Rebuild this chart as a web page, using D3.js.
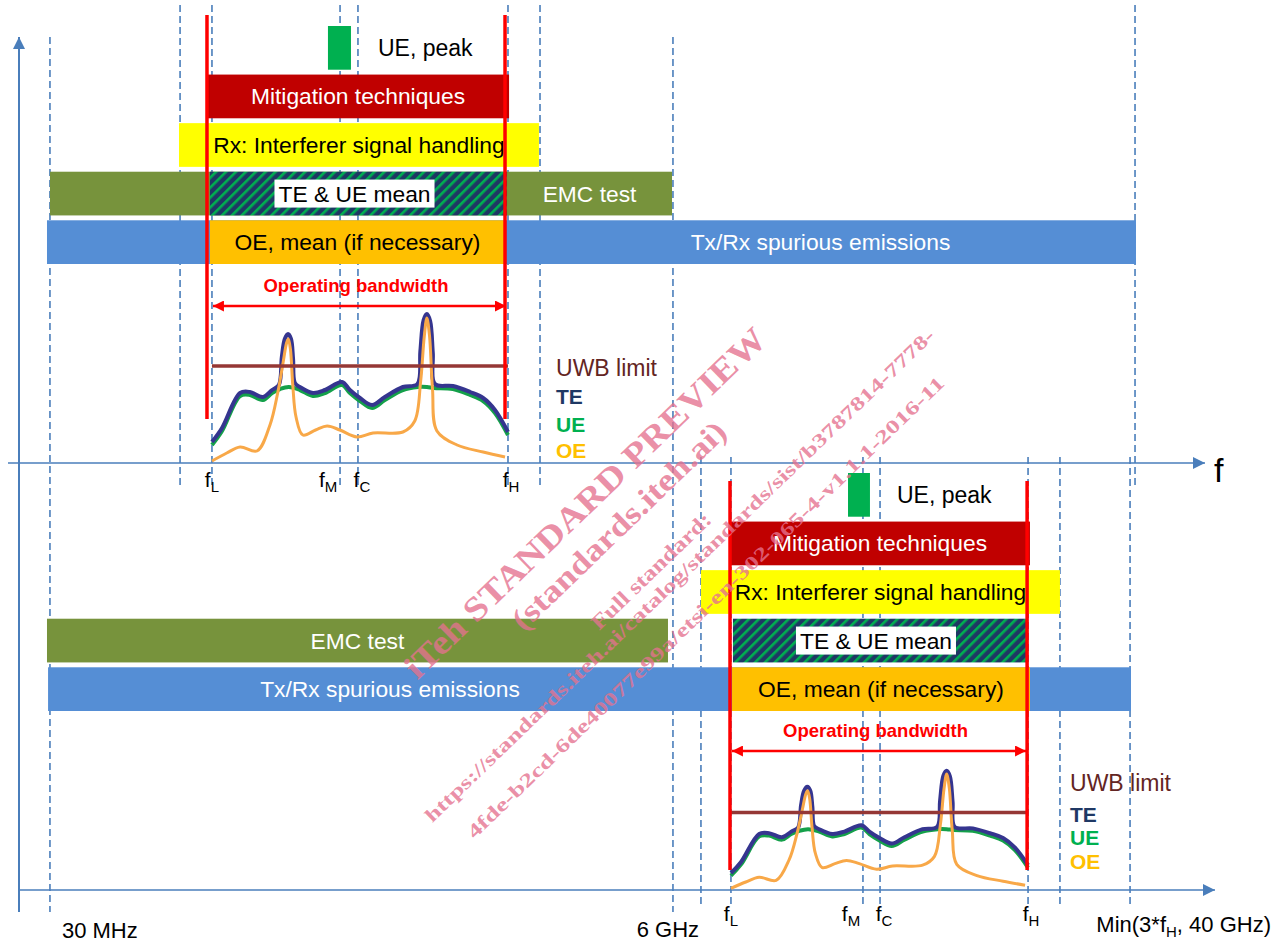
<!DOCTYPE html>
<html>
<head>
<meta charset="utf-8">
<script src="https://cdn.jsdelivr.net/npm/d3@7"></script>
<style>
html, body { margin: 0; padding: 0; background: #fff; }
svg { display: block; font-family: "Liberation Sans", Arial, sans-serif; }
</style>
</head>
<body>
<div id="chart"></div>
<script>
var width = 1278,
    height = 943;

// schematic frequency positions along the f axis (0..100)
var sharedMarks = [
    { name: "30 MHz", f: 2.61 },
    { name: "6 GHz", f: 55.14 }
];

var topMarks = [
    { id: "rxLo", f: 13.58 },
    { id: "L", f: 16.27 },
    { id: "M", f: 27.07 },
    { id: "C", f: 28.58 },
    { id: "H", f: 41.23 },
    { id: "rxHi", f: 43.93 },
    { id: "max", f: 94.10 }
];

var bottomMarks = [
    { id: "rxLo", f: 57.50 },
    { id: "L", f: 60.03 },
    { id: "M", f: 71.16 },
    { id: "C", f: 72.60 },
    { id: "H", f: 85.08 },
    { id: "rxHi", f: 87.77 },
    { id: "max", f: 93.68 }
];

// red band edges
var topEdges = [15.85, 40.98];
var bottomEdges = [59.95, 85.00];

var rows = ["peak", "mitigation", "rx", "mean", "spurious"];

var topBars = [
    { row: "peak", f0: 26.05, f1: 27.99, fill: "#00B050", label: "UE, peak", outside: true },
    { row: "mitigation", f0: 15.85, f1: 41.32, fill: "#C00000", label: "Mitigation techniques", color: "#fff" },
    { row: "rx", f0: 13.49, f1: 43.84, fill: "#FFFF00", label: "Rx: Interferer signal handling", color: "#000" },
    { row: "mean", f0: 2.61, f1: 55.06, fill: "#77933C", label: "EMC test", color: "#fff", l0: 41.15, l1: 55.06 },
    { row: "mean", f0: 16.10, f1: 41.15, fill: "url(#hatch)", label: "TE & UE mean", color: "#000", box: true },
    { row: "spurious", f0: 2.36, f1: 94.18, fill: "#558ED5", label: "Tx/Rx spurious emissions", color: "#fff", l0: 40.98, l1: 94.18 },
    { row: "spurious", f0: 16.10, f1: 40.98, fill: "#FFC000", label: "OE, mean (if necessary)", color: "#000" }
];

var bottomBars = [
    { row: "peak", f0: 69.90, f1: 71.75, fill: "#00B050", label: "UE, peak", outside: true },
    { row: "mitigation", f0: 59.95, f1: 85.24, fill: "#C00000", label: "Mitigation techniques", color: "#fff" },
    { row: "rx", f0: 57.50, f1: 87.77, fill: "#FFFF00", label: "Rx: Interferer signal handling", color: "#000" },
    { row: "mean", f0: 2.36, f1: 54.72, fill: "#77933C", label: "EMC test", color: "#fff" },
    { row: "mean", f0: 60.20, f1: 84.99, fill: "url(#hatch)", label: "TE & UE mean", color: "#000", box: true },
    { row: "spurious", f0: 2.45, f1: 93.76, fill: "#558ED5", label: "Tx/Rx spurious emissions", color: "#fff", l0: 2.45, l1: 60.12 },
    { row: "spurious", f0: 60.12, f1: 85.24, fill: "#FFC000", label: "OE, mean (if necessary)", color: "#000" }
];

// spectra: [position within operating band (fL=0, fH=1), level]
var uwbLimit = 97;

var ueCurve = [
    [0, 18], [0.034, 32], [0.095, 67], [0.128, 68], [0.172, 63], [0.203, 70], [0.23, 74],
    [0.26, 76], [0.297, 73], [0.341, 67], [0.382, 70], [0.439, 78], [0.466, 70], [0.5, 62],
    [0.541, 55], [0.584, 63], [0.645, 73], [0.696, 76], [0.726, 76], [0.75, 75], [0.814, 74],
    [0.872, 68], [0.916, 62], [0.956, 50], [1.0, 28]
];

var teCurve = [
    [0, 21], [0.034, 35], [0.095, 70], [0.128, 71], [0.172, 66], [0.203, 73], [0.226, 78],
    [0.236, 106], [0.246, 124], [0.257, 129], [0.267, 124], [0.274, 104], [0.28, 80],
    [0.297, 76], [0.341, 70], [0.382, 73], [0.439, 81], [0.466, 73], [0.5, 65], [0.541, 58],
    [0.584, 66], [0.645, 76], [0.694, 79], [0.704, 112], [0.715, 143], [0.726, 149],
    [0.737, 142], [0.746, 110], [0.753, 79], [0.814, 77], [0.872, 71], [0.916, 65],
    [0.956, 53], [1.0, 31]
];

var oeCurve = [
    [0, 2], [0.05, 10], [0.095, 16], [0.152, 12], [0.196, 38], [0.222, 70], [0.24, 100],
    [0.252, 120], [0.258, 124], [0.265, 114], [0.273, 78], [0.284, 46], [0.307, 28],
    [0.35, 33], [0.389, 37], [0.432, 33], [0.49, 26], [0.544, 30], [0.645, 31], [0.685, 42],
    [0.705, 82], [0.717, 126], [0.726, 145], [0.735, 127], [0.745, 74], [0.76, 32],
    [0.828, 18], [0.916, 11], [0.99, 6]
];

var legendItems = [
    { text: "UWB limit", color: "#632523", bold: false },
    { text: "TE", color: "#1F3864", bold: true },
    { text: "UE", color: "#00B050", bold: true },
    { text: "OE", color: "#FFC000", bold: true }
];

var watermarkLines = [
    { text: "iTeh STANDARD PREVIEW", size: 34, len: 488, cx: 593, cy: 511 },
    { text: "(standards.iteh.ai)", size: 31, len: 285, cx: 626, cy: 533 },
    { text: "Full standard:", size: 21, len: 158, cx: 656, cy: 576 },
    { text: "https://standards.iteh.ai/catalog/standards/sist/b3787814-7778-", size: 19, len: 700, cx: 684, cy: 580 },
    { text: "4fde-b2cd-6de40077e99a/etsi-en-302-065-4-v1.1.1-2016-11", size: 19, len: 655, cx: 710, cy: 612 }
];

var panels = [
    { marks: topMarks, bars: topBars, edges: topEdges, rowTop: 26, rowBottom: 264,
      axisY: 463, curveTop: 313, lineY: [5, 485], edgeY: [15, 419], arrowY: 306,
      bwLabelY: 292, legendF: 45.28, legendY: [368, 397, 425, 451], fLabelY: 487 },
    { marks: bottomMarks, bars: bottomBars, edges: bottomEdges, rowTop: 473, rowBottom: 711,
      axisY: 890, curveTop: 770, lineY: [457, 905], edgeY: [481, 870], arrowY: 751,
      bwLabelY: 737, legendF: 88.62, legendY: [783, 815, 838, 862], fLabelY: 921 }
];

var barFont = 22.8;

var x = d3.scaleLinear().domain([0, 100]).range([19, 1205]);

var svg = d3.select("#chart").append("svg")
    .attr("width", width)
    .attr("height", height);

var defs = svg.append("defs");

var hatch = defs.append("pattern")
    .attr("id", "hatch")
    .attr("patternUnits", "userSpaceOnUse")
    .attr("width", 7)
    .attr("height", 7)
    .attr("patternTransform", "rotate(45)");
hatch.append("rect").attr("width", 7).attr("height", 7).attr("fill", "#1F3864");
hatch.append("rect").attr("width", 2.6).attr("height", 7).attr("fill", "#00B050");

function arrowMarker(id, color, w, h) {
    defs.append("marker")
        .attr("id", id)
        .attr("viewBox", "0 0 10 10")
        .attr("refX", 10)
        .attr("refY", 5)
        .attr("markerUnits", "userSpaceOnUse")
        .attr("markerWidth", w)
        .attr("markerHeight", h)
        .attr("orient", "auto-start-reverse")
        .append("path")
        .attr("d", "M0,0L10,5L0,10Z")
        .attr("fill", color);
}
arrowMarker("axisArrow", "#4A7EBB", 14, 12);
arrowMarker("redArrow", "#FF0000", 13, 11);

// dashed frequency markers (behind everything)
var dash = svg.append("g")
    .attr("stroke", "#4A7EBB")
    .attr("stroke-width", 1.6)
    .attr("stroke-dasharray", "7,4");

dash.selectAll("line.shared")
    .data(sharedMarks)
    .enter().append("line")
    .attr("class", "shared")
    .attr("x1", function(d) { return x(d.f); })
    .attr("x2", function(d) { return x(d.f); })
    .attr("y1", 37)
    .attr("y2", 912);

panels.forEach(function(p, i) {
    dash.selectAll("line.p" + i)
        .data(p.marks)
        .enter().append("line")
        .attr("class", "p" + i)
        .attr("x1", function(d) { return x(d.f); })
        .attr("x2", function(d) { return x(d.f); })
        .attr("y1", p.lineY[0])
        .attr("y2", p.lineY[1]);
});

// axes
var axes = svg.append("g")
    .attr("stroke", "#4A7EBB")
    .attr("stroke-width", 1.6)
    .attr("fill", "none");
axes.append("line").attr("x1", 8).attr("x2", x(100)).attr("y1", 463).attr("y2", 463)
    .attr("marker-end", "url(#axisArrow)");
axes.append("line").attr("x1", x(0)).attr("x2", x(100) + 10).attr("y1", 890).attr("y2", 890)
    .attr("marker-end", "url(#axisArrow)");
axes.append("line").attr("x1", x(0)).attr("x2", x(0)).attr("y1", 912).attr("y2", 37)
    .attr("stroke-width", 2)
    .attr("marker-end", "url(#axisArrow)");

svg.append("text")
    .attr("x", 1214)
    .attr("y", 482)
    .attr("font-size", 34)
    .attr("fill", "#000")
    .text("f");

panels.forEach(function(p) {
    var g = svg.append("g");
    var rowScale = d3.scaleBand().domain(rows).range([p.rowTop, p.rowBottom]).paddingInner(0.1);

    var bars = g.selectAll("g.bar")
        .data(p.bars)
        .enter().append("g")
        .attr("class", "bar");

    bars.append("rect")
        .attr("x", function(d) { return x(d.f0); })
        .attr("y", function(d) { return rowScale(d.row); })
        .attr("width", function(d) { return x(d.f1) - x(d.f0); })
        .attr("height", rowScale.bandwidth())
        .attr("fill", function(d) { return d.fill; });

    bars.each(function(d) {
        var sel = d3.select(this);
        var cy = rowScale(d.row) + rowScale.bandwidth() / 2;
        if (d.outside) {
            sel.append("text")
                .attr("x", x(d.f1) + 27)
                .attr("y", cy)
                .attr("dy", "0.35em")
                .attr("font-size", 23)
                .attr("fill", "#000")
                .text(d.label);
            return;
        }
        var a = d.l0 !== undefined ? d.l0 : d.f0,
            b = d.l1 !== undefined ? d.l1 : d.f1;
        var t = sel.append("text")
            .attr("x", x((a + b) / 2) - (d.box ? 4 : 0))
            .attr("y", cy)
            .attr("dy", "0.35em")
            .attr("text-anchor", "middle")
            .attr("font-size", barFont)
            .attr("fill", d.color)
            .text(d.label);
        if (d.box) {
            var w = t.node().getComputedTextLength();
            sel.insert("rect", "text")
                .attr("x", x((a + b) / 2) - 4 - w / 2 - 4)
                .attr("y", cy - 14)
                .attr("width", w + 8)
                .attr("height", 28)
                .attr("fill", "#fff");
        }
    });

    // curves
    var fL = p.marks.find(function(m) { return m.id === "L"; }).f,
        fH = p.marks.find(function(m) { return m.id === "H"; }).f;
    var cx = d3.scaleLinear().domain([0, 1]).range([x(fL), x(fH)]);
    var cy = d3.scaleLinear().domain([0, 150]).range([p.axisY, p.curveTop]);
    var line = d3.line()
        .x(function(d) { return cx(d[0]); })
        .y(function(d) { return cy(d[1]); })
        .curve(d3.curveCatmullRom.alpha(0.5));

    g.append("path").datum(ueCurve).attr("d", line)
        .attr("fill", "none").attr("stroke", "#14A04A").attr("stroke-width", 4).attr("stroke-linejoin", "round");
    g.append("path").datum(teCurve).attr("d", line)
        .attr("fill", "none").attr("stroke", "#35358F").attr("stroke-width", 4).attr("stroke-linejoin", "round");
    g.append("path").datum(oeCurve).attr("d", line)
        .attr("fill", "none").attr("stroke", "#F8A848").attr("stroke-width", 3).attr("stroke-linejoin", "round");

    g.append("line")
        .attr("x1", cx(0)).attr("x2", cx(1))
        .attr("y1", cy(uwbLimit)).attr("y2", cy(uwbLimit))
        .attr("stroke", "#953735").attr("stroke-width", 3.5);

    // red band edges
    g.selectAll("line.edge")
        .data(p.edges)
        .enter().append("line")
        .attr("class", "edge")
        .attr("x1", function(d) { return x(d); })
        .attr("x2", function(d) { return x(d); })
        .attr("y1", p.edgeY[0])
        .attr("y2", p.edgeY[1])
        .attr("stroke", "#FF0000")
        .attr("stroke-width", 3.5);

    // operating bandwidth
    g.append("line")
        .attr("x1", cx(0) + 1).attr("x2", cx(1) - 2)
        .attr("y1", p.arrowY).attr("y2", p.arrowY)
        .attr("stroke", "#FF0000").attr("stroke-width", 2.5)
        .attr("marker-start", "url(#redArrow)")
        .attr("marker-end", "url(#redArrow)");
    g.append("text")
        .attr("x", cx(0.5) - 4)
        .attr("y", p.bwLabelY)
        .attr("text-anchor", "middle")
        .attr("font-size", 18.5)
        .attr("font-weight", "bold")
        .attr("fill", "#FF0000")
        .text("Operating bandwidth");

    // legend
    g.selectAll("text.legend")
        .data(legendItems)
        .enter().append("text")
        .attr("class", "legend")
        .attr("x", x(p.legendF))
        .attr("y", function(d, i) { return p.legendY[i]; })
        .attr("dy", "0.35em")
        .attr("font-size", function(d) { return d.bold ? 21 : 23; })
        .attr("font-weight", function(d) { return d.bold ? "bold" : "normal"; })
        .attr("fill", function(d) { return d.color; })
        .text(function(d) { return d.text; });

    // f labels
    var shift = { L: 0, M: -12, C: 4, H: 3 };
    var fl = g.selectAll("text.flabel")
        .data(p.marks.filter(function(m) { return shift[m.id] !== undefined; }))
        .enter().append("text")
        .attr("class", "flabel")
        .attr("x", function(d) { return x(d.f) + shift[d.id]; })
        .attr("y", p.fLabelY)
        .attr("text-anchor", "middle")
        .attr("font-size", 21)
        .attr("fill", "#000");
    fl.append("tspan").text("f");
    fl.append("tspan").attr("dy", 5).attr("font-size", 15).text(function(d) { return d.id; });
});

// bottom axis labels
var tickLabels = svg.append("g").attr("font-size", 22).attr("fill", "#000");
tickLabels.append("text").attr("x", x(sharedMarks[0].f) + 12).attr("y", 938).text(sharedMarks[0].name);
tickLabels.append("text").attr("x", x(sharedMarks[1].f) - 5).attr("y", 937)
    .attr("text-anchor", "middle").text(sharedMarks[1].name);
var maxLabel = tickLabels.append("text").attr("x", 1271).attr("y", 932).attr("text-anchor", "end");
maxLabel.append("tspan").text("Min(3*f");
maxLabel.append("tspan").attr("dy", 5).attr("font-size", 15).text("H");
maxLabel.append("tspan").attr("dy", -5).text(", 40 GHz)");

// preview watermark
svg.append("g")
    .attr("font-family", "\"Liberation Serif\", \"Times New Roman\", serif")
    .attr("font-weight", "bold")
    .attr("fill", "#E5728F")
    .attr("fill-opacity", 0.8)
    .selectAll("text")
    .data(watermarkLines)
    .enter().append("text")
    .attr("transform", function(d) { return "translate(" + d.cx + "," + d.cy + ") rotate(-44)"; })
    .attr("text-anchor", "middle")
    .attr("font-size", function(d) { return d.size; })
    .attr("textLength", function(d) { return d.len; })
    .attr("lengthAdjust", "spacingAndGlyphs")
    .text(function(d) { return d.text; });
</script>
</body>
</html>
